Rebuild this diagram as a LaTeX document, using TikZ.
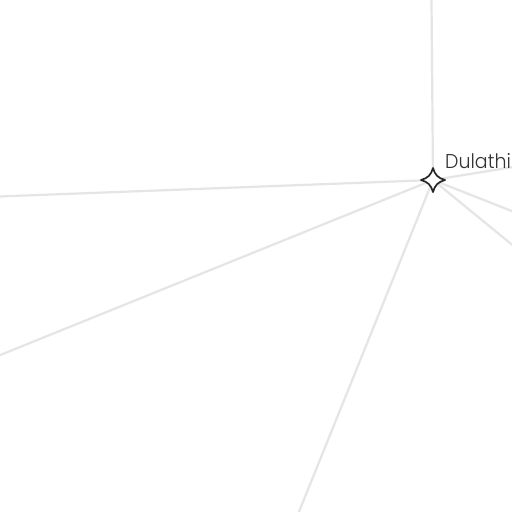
\documentclass[tikz,border=0pt]{standalone}
\usepackage{fontspec}
\setmainfont{Poppins Light}
\tikzset{
  edge/.style={draw=black!10, line width=2.2pt},
  starmark/.style={draw=black!85, fill=white, line width=1.7pt, line join=round},
  lab/.style={anchor=base west, inner sep=0pt, text=black!80, font=\fontsize{20}{20}\selectfont, xscale=0.95}
}
\begin{document}
\begin{tikzpicture}[x=1pt,y=-1pt]
\useasboundingbox (0,0) rectangle (512,512);
\clip (0,0) rectangle (512,512);
\fill[white] (0,0) rectangle (512,512);
\coordinate (hub) at (433,180);
\coordinate (e1) at (431.5,-1);
\coordinate (e2) at (-1,196.5);
\coordinate (e3) at (-1,355.5);
\coordinate (e4) at (298.5,513);
\coordinate (e5) at (513,245.5);
\coordinate (e6) at (513,211.5);
\coordinate (e7) at (513,167);
\foreach \e in {e1,e2,e3,e4,e5,e6,e7} \draw[edge] (hub) -- (\e);
\path[starmark] (433,168) .. controls (435,175) and (438,178) .. (445,180)
  .. controls (438,182) and (435,185) .. (433,192)
  .. controls (431,185) and (428,182) .. (421,180)
  .. controls (428,178) and (431,175) .. (433,168) -- cycle;
\node[lab] (dulathi) at (445,168) {Dulathi};
\end{tikzpicture}
\end{document}
